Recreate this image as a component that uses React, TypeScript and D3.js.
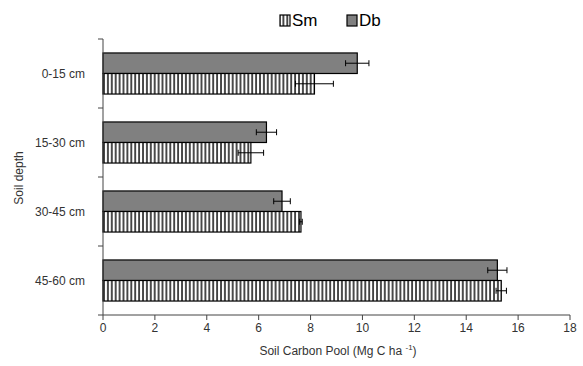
import React from "react";
import * as d3 from "d3";

const categories = ["0-15 cm", "15-30 cm", "30-45 cm", "45-60 cm"];
const seriesNames = ["Db", "Sm"];
const dbValues = [9.8, 6.3, 6.9, 15.2];
const dbErrors = [0.45, 0.39, 0.32, 0.37];
const smValues = [8.15, 5.7, 7.63, 15.35];
const smErrors = [0.73, 0.49, 0.05, 0.2];
const xTicks = [0, 2, 4, 6, 8, 10, 12, 14, 16, 18];

const W = 583;
const H = 366;
const left = 103;
const right = 570;
const top = 39;
const bottom = 315;

export default function App() {
  const x = d3.scaleLinear().domain([0, 18]).range([left, right]);
  const y = d3.scaleBand().domain(categories).range([top, bottom]).paddingInner(0).paddingOuter(0);
  const inner = d3.scaleBand().domain(seriesNames).range([0, y.bandwidth()]).paddingOuter(0.68).paddingInner(0);
  const axisColor = "#444";
  const textColor = "#333";
  const font = "Liberation Sans, Arial, sans-serif";

  const series = [
    { name: "Db", values: dbValues, errors: dbErrors, fill: "#808080" },
    { name: "Sm", values: smValues, errors: smErrors, fill: "url(#stripes)" },
  ];

  return (
    <svg width={W} height={H} style={{ position: "absolute", left: 0, top: 0, background: "#fff" }}>
      <defs>
        <pattern id="stripes" patternUnits="userSpaceOnUse" width={3.9} height={10} x={left}>
          <rect width={3.9} height={10} fill="#fff" />
          <rect x={0.3} width={1.4} height={10} fill="#000" />
        </pattern>
      </defs>
      <rect width={W} height={H} fill="#fff" />
      {series.map((s) =>
        categories.map((c, i) => {
          const y0 = (y(c) as number) + (inner(s.name) as number);
          const h = inner.bandwidth();
          const v = s.values[i];
          const e = s.errors[i];
          const cy = y0 + h / 2;
          return (
            <g key={s.name + c}>
              <rect x={x(0)} y={y0} width={x(v) - x(0)} height={h} fill={s.fill} stroke="#000" strokeWidth={1.2} />
              <line x1={x(v - e)} x2={x(v + e)} y1={cy} y2={cy} stroke="#000" strokeWidth={1} />
              <line x1={x(v - e)} x2={x(v - e)} y1={cy - 3} y2={cy + 3} stroke="#000" strokeWidth={1} />
              <line x1={x(v + e)} x2={x(v + e)} y1={cy - 3} y2={cy + 3} stroke="#000" strokeWidth={1} />
            </g>
          );
        })
      )}
      {/* axes */}
      <line x1={left} x2={left} y1={top} y2={bottom} stroke={axisColor} strokeWidth={1} />
      <line x1={left} x2={right} y1={bottom} y2={bottom} stroke={axisColor} strokeWidth={1} />
      {[top, ...categories.map((c) => (y(c) as number) + y.bandwidth())].map((t, i) => (
        <line key={"yt" + i} x1={left - 5} x2={left} y1={t} y2={t} stroke={axisColor} strokeWidth={1} />
      ))}
      {xTicks.map((t) => (
        <g key={"xt" + t}>
          <line x1={x(t)} x2={x(t)} y1={bottom} y2={bottom + 5} stroke={axisColor} strokeWidth={1} />
          <text x={x(t)} y={332} textAnchor="middle" fontFamily={font} fontSize={12} fill={textColor}>
            {t}
          </text>
        </g>
      ))}
      {categories.map((c) => (
        <text key={"yl" + c} x={85} y={(y(c) as number) + y.bandwidth() / 2 + 4} textAnchor="end" fontFamily={font} fontSize={12} fill={textColor}>
          {c}
        </text>
      ))}
      <text x={338} y={355} textAnchor="middle" fontFamily={font} fontSize={12} fill={textColor}>
        Soil Carbon Pool (Mg C ha <tspan dy={-5} fontSize={8}>-1</tspan>
        <tspan dy={5}>)</tspan>
      </text>
      <text transform={`translate(23,178) rotate(-90)`} textAnchor="middle" fontFamily={font} fontSize={12} fill={textColor}>
        Soil depth
      </text>
      {/* legend */}
      <rect x={280} y={15} width={10} height={11} fill="url(#stripes)" stroke="#000" strokeWidth={1.2} />
      <text x={292} y={26} fontFamily={font} fontSize={17} fill="#000">Sm</text>
      <rect x={347} y={15} width={10} height={11} fill="#808080" stroke="#000" strokeWidth={1.2} />
      <text x={359} y={26} fontFamily={font} fontSize={17} fill="#000">Db</text>
    </svg>
  );
}
